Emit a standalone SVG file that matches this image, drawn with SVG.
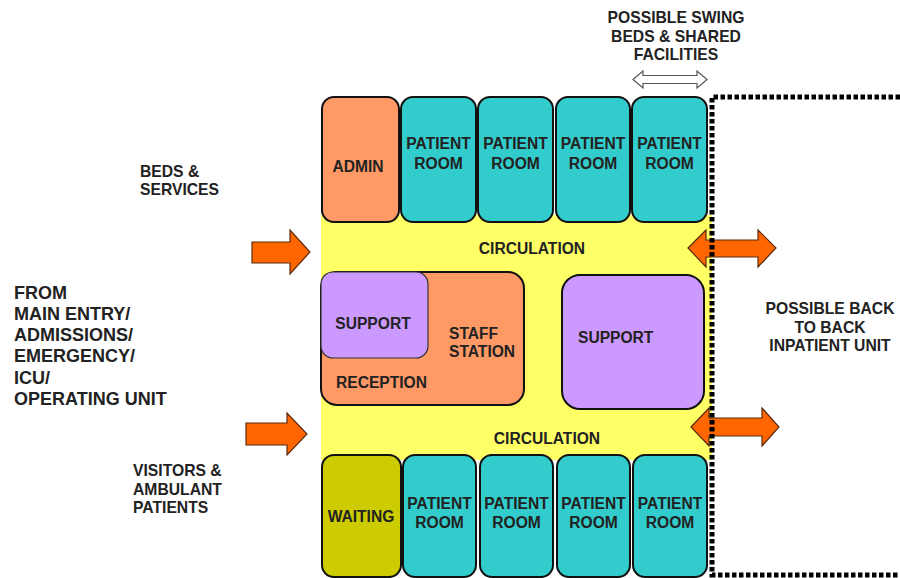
<svg xmlns="http://www.w3.org/2000/svg" width="900" height="578" viewBox="0 0 900 578">
<style>
text{font-family:"Liberation Sans",Arial,sans-serif;font-weight:bold;fill:#222;}
.c{text-anchor:middle;}
.room{stroke:#111;stroke-width:2;}
.teal{fill:#33CCCC;}
.orange{fill:#FF9966;}
.purple{fill:#CC99FF;}
.olive{fill:#CCCC00;}
.arrow{fill:#FF6600;stroke:#5a2a10;stroke-width:1.2;}
.t15{font-size:15.7px;}
.t14{font-size:15.6px;}
.big{font-size:18px;}
</style>
<rect width="900" height="578" fill="#fff"/>
<g id="circulation">
<rect x="321" y="215" width="391" height="245" fill="#FFFF66"/>
<text class="c t14" x="532" y="254">CIRCULATION</text>
<text class="c t14" x="547" y="444">CIRCULATION</text>
</g>
<g id="admin"><rect class="room orange" x="322" y="97" width="77" height="125" rx="12"/><text class="c t14" x="358" y="172">ADMIN</text></g>
<g id="room-top-1"><rect class="room teal" x="401" y="97" width="75" height="125" rx="12"/><text class="c t14" x="438.5" y="149">PATIENT</text><text class="c t14" x="438.5" y="169">ROOM</text></g>
<g id="room-top-2"><rect class="room teal" x="478" y="97" width="75" height="125" rx="12"/><text class="c t14" x="515.5" y="149">PATIENT</text><text class="c t14" x="515.5" y="169">ROOM</text></g>
<g id="room-top-3"><rect class="room teal" x="556" y="97" width="74" height="125" rx="12"/><text class="c t14" x="593" y="149">PATIENT</text><text class="c t14" x="593" y="169">ROOM</text></g>
<g id="room-top-4"><rect class="room teal" x="632" y="97" width="75" height="125" rx="12"/><text class="c t14" x="669.5" y="149">PATIENT</text><text class="c t14" x="669.5" y="169">ROOM</text></g>
<g id="staff-station"><rect class="room orange" x="321" y="272" width="203" height="133" rx="16"/><text class="t14" x="449" y="339">STAFF</text><text class="t14" x="449" y="357">STATION</text><text class="t14" x="336" y="388">RECEPTION</text></g>
<g id="support-left"><rect class="purple" x="321" y="272" width="107" height="86" rx="12" stroke="#333" stroke-width="1.2"/><text class="c t14" x="373" y="329">SUPPORT</text></g>
<g id="support-right"><rect class="room purple" x="562" y="275" width="142" height="134" rx="18" stroke-width="1.5"/><text class="t14" x="578" y="343">SUPPORT</text></g>
<g id="waiting"><rect class="room olive" x="322" y="455" width="79" height="122" rx="12"/><text class="c t14" x="361" y="522">WAITING</text></g>
<g id="room-bot-1"><rect class="room teal" x="403" y="455" width="73" height="122" rx="12"/><text class="c t14" x="439.5" y="509">PATIENT</text><text class="c t14" x="439.5" y="528">ROOM</text></g>
<g id="room-bot-2"><rect class="room teal" x="480" y="455" width="73" height="122" rx="12"/><text class="c t14" x="516.5" y="509">PATIENT</text><text class="c t14" x="516.5" y="528">ROOM</text></g>
<g id="room-bot-3"><rect class="room teal" x="557" y="455" width="73" height="122" rx="12"/><text class="c t14" x="593.5" y="509">PATIENT</text><text class="c t14" x="593.5" y="528">ROOM</text></g>
<g id="room-bot-4"><rect class="room teal" x="633" y="455" width="74" height="122" rx="12"/><text class="c t14" x="670" y="509">PATIENT</text><text class="c t14" x="670" y="528">ROOM</text></g>
<g id="connectors">
<path class="arrow" d="M252,242 L290,242 L290,230 L310,252 L290,274 L290,263 L252,263 Z"/>
<path class="arrow" d="M246,423 L287,423 L287,413 L307,434 L287,455 L287,445 L246,445 Z"/>
<path class="arrow" d="M688,248 L706,230 L706,240 L758,240 L758,230 L776,248 L758,267 L758,257 L706,257 L706,267 Z"/>
<path class="arrow" d="M691,427 L709,408 L709,418 L762,418 L762,408 L779,427 L762,446 L762,436 L709,436 L709,446 Z"/>
<path d="M633,79.5 L643,71 L643,75.5 L697,75.5 L697,71 L707,79.5 L697,88 L697,83.5 L643,83.5 L643,88 Z" fill="#fff" stroke="#555" stroke-width="1.2"/>
</g>
<g id="back-unit">
<path d="M900,97 L712,97 L712,575 L900,575" fill="none" stroke="#000" stroke-width="5" stroke-dasharray="4.5 2.5"/>
</g>
<g id="labels">
<text class="c t15" x="676" y="23">POSSIBLE SWING</text>
<text class="c t15" x="676" y="42">BEDS &amp; SHARED</text>
<text class="c t15" x="676" y="60">FACILITIES</text>
<text class="t15" x="140" y="177">BEDS &amp;</text>
<text class="t15" x="140" y="195">SERVICES</text>
<text class="t15" x="133" y="476">VISITORS &amp;</text>
<text class="t15" x="133" y="495">AMBULANT</text>
<text class="t15" x="133" y="513">PATIENTS</text>
<text class="big" x="14" y="299">FROM</text>
<text class="big" x="14" y="320">MAIN ENTRY/</text>
<text class="big" x="14" y="341">ADMISSIONS/</text>
<text class="big" x="14" y="362">EMERGENCY/</text>
<text class="big" x="14" y="384">ICU/</text>
<text class="big" x="14" y="405">OPERATING UNIT</text>
<text class="c t15" x="830" y="314">POSSIBLE BACK</text>
<text class="c t15" x="830" y="333">TO BACK</text>
<text class="c t15" x="830" y="351">INPATIENT UNIT</text>
</g>
</svg>
